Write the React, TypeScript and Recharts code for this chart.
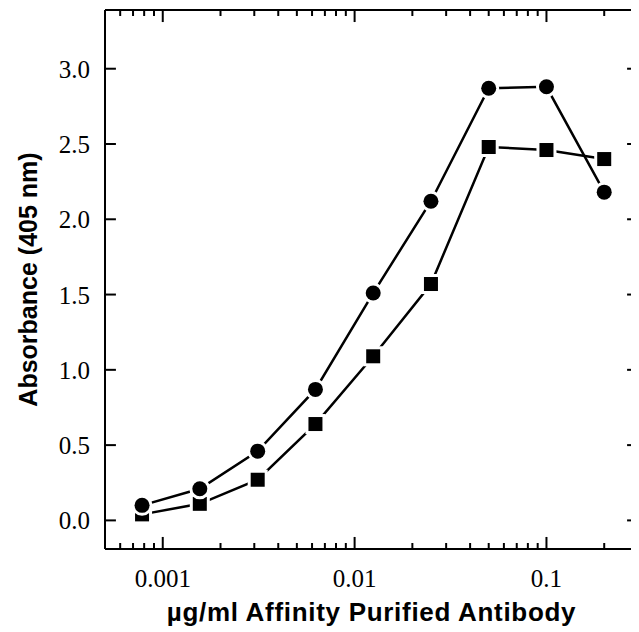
import { ComposedChart, Line, Scatter, XAxis, YAxis, ReferenceLine } from 'recharts';

// two-fold dilution series (µg/ml)
const concentrations = [0.00078, 0.00156, 0.003125, 0.00625, 0.0125, 0.025, 0.05, 0.1, 0.2];
const circleSeries = [0.1, 0.21, 0.46, 0.87, 1.51, 2.12, 2.87, 2.88, 2.18];
const squareSeries = [0.04, 0.11, 0.27, 0.64, 1.09, 1.57, 2.48, 2.46, 2.4];

const xMajorTicks = [0.001, 0.01, 0.1];
const xMinorTicks = [
  0.0006, 0.0007, 0.0008, 0.0009,
  0.002, 0.003, 0.004, 0.005, 0.006, 0.007, 0.008, 0.009,
  0.02, 0.03, 0.04, 0.05, 0.06, 0.07, 0.08, 0.09,
  0.2,
];
const yTicks = [0, 0.5, 1.0, 1.5, 2.0, 2.5, 3.0];

const data = concentrations.map((c, i) => ({
  conc: c,
  circle: circleSeries[i],
  square: squareSeries[i],
}));

const X_MIN = 0.0005;
const X_MAX = 0.3;
const Y_MIN = -0.19;
const Y_MAX = 3.39;

// tick lengths expressed in axis units (about 12px / 6px / 11px on screen)
const MAJOR_LEN = 0.08;
const MINOR_LEN = 0.04;
const Y_TICK_FACTOR = 1.14;

const SERIF = '"Liberation Serif", "Times New Roman", serif';
const SANS = '"Liberation Sans", Arial, sans-serif';

const BottomLabel = (props: any) => {
  const { x, y, payload } = props;
  return (
    <text x={x} y={y + 38} textAnchor="middle" fontFamily={SERIF} fontSize={25} fill="#000">
      {String(payload.value)}
    </text>
  );
};

const LeftLabel = (props: any) => {
  const { x, y, payload } = props;
  return (
    <text x={x - 15} y={y + 9} textAnchor="end" fontFamily={SERIF} fontSize={25} fill="#000">
      {payload.value.toFixed(1)}
    </text>
  );
};

const YTitle = ({ viewBox }: any) => {
  const cx = viewBox.x + 20;
  const cy = viewBox.y + viewBox.height / 2;
  return (
    <text
      x={cx}
      y={cy}
      transform={`rotate(-90 ${cx} ${cy})`}
      textAnchor="middle"
      dominantBaseline="central"
      fontFamily={SANS}
      fontWeight="bold"
      fontSize={25}
      fill="#000"
    >
      Absorbance (405 nm)
    </text>
  );
};

const XTitle = ({ viewBox }: any) => {
  const cx = viewBox.x + viewBox.width / 2;
  const cy = viewBox.y + 63;
  return (
    <text
      x={cx}
      y={cy}
      textAnchor="middle"
      dominantBaseline="central"
      fontFamily={SANS}
      fontWeight="bold"
      fontSize={26}
      letterSpacing={0.7}
      fill="#000"
    >
      µg/ml Affinity Purified Antibody
    </text>
  );
};

// white ring round each marker leaves the small gap between line and symbol
const CircleShape = ({ cx, cy }: any) => (
  <circle cx={cx} cy={cy} r={7.5} fill="#000" stroke="#fff" strokeWidth={6} paintOrder="stroke" />
);
const SquareShape = ({ cx, cy }: any) => (
  <rect x={cx - 7} y={cy - 7} width={14} height={14} fill="#000" stroke="#fff" strokeWidth={6} paintOrder="stroke" />
);

const tickLine = { stroke: '#000', strokeWidth: 2 };

export default function App() {
  return (
    <ComposedChart
      width={631}
      height={624}
      data={data}
      margin={{ top: 2, right: 1, bottom: 0, left: 0 }}
    >
      <XAxis
        dataKey="conc"
        type="number"
        scale="log"
        domain={[X_MIN, X_MAX]}
        allowDataOverflow
        ticks={xMajorTicks}
        interval={0}
        height={83}
        tickSize={0}
        tickMargin={0}
        tick={<BottomLabel />}
        axisLine={{ stroke: '#000', strokeWidth: 2 }}
        tickLine={false}
        label={<XTitle />}
      />
      <YAxis
        type="number"
        domain={[Y_MIN, Y_MAX]}
        allowDataOverflow
        ticks={yTicks}
        interval={0}
        width={97}
        tickSize={0}
        tickMargin={0}
        tick={<LeftLabel />}
        axisLine={{ stroke: '#000', strokeWidth: 2 }}
        tickLine={false}
        label={<YTitle />}
      />

      {/* frame: top and right edges */}
      <ReferenceLine y={Y_MAX} stroke="#000" strokeWidth={2} ifOverflow="visible" />
      <ReferenceLine x={X_MAX} stroke="#aaa" strokeWidth={1} ifOverflow="visible" />

      {/* inward ticks on all four sides */}
      {xMajorTicks.map((t) => (
        <ReferenceLine key={`xb${t}`} segment={[{ x: t, y: Y_MIN }, { x: t, y: Y_MIN + MAJOR_LEN }]} {...tickLine} ifOverflow="visible" />
      ))}
      {xMinorTicks.map((t) => (
        <ReferenceLine key={`xbm${t}`} segment={[{ x: t, y: Y_MIN }, { x: t, y: Y_MIN + MINOR_LEN }]} {...tickLine} ifOverflow="visible" />
      ))}
      {xMajorTicks.map((t) => (
        <ReferenceLine key={`xt${t}`} segment={[{ x: t, y: Y_MAX }, { x: t, y: Y_MAX - MAJOR_LEN }]} {...tickLine} ifOverflow="visible" />
      ))}
      {xMinorTicks.map((t) => (
        <ReferenceLine key={`xtm${t}`} segment={[{ x: t, y: Y_MAX }, { x: t, y: Y_MAX - MINOR_LEN }]} {...tickLine} ifOverflow="visible" />
      ))}
      {yTicks.map((t) => (
        <ReferenceLine key={`yl${t}`} segment={[{ x: X_MIN, y: t }, { x: X_MIN * Y_TICK_FACTOR, y: t }]} {...tickLine} ifOverflow="visible" />
      ))}
      {yTicks.map((t) => (
        <ReferenceLine key={`yr${t}`} segment={[{ x: X_MAX / Y_TICK_FACTOR, y: t }, { x: X_MAX, y: t }]} {...tickLine} ifOverflow="visible" />
      ))}

      <Line dataKey="circle" stroke="#000" strokeWidth={2.5} dot={false} isAnimationActive={false} />
      <Line dataKey="square" stroke="#000" strokeWidth={2.5} dot={false} isAnimationActive={false} />
      <Scatter dataKey="square" shape={<SquareShape />} isAnimationActive={false} />
      <Scatter dataKey="circle" shape={<CircleShape />} isAnimationActive={false} />
    </ComposedChart>
  );
}
